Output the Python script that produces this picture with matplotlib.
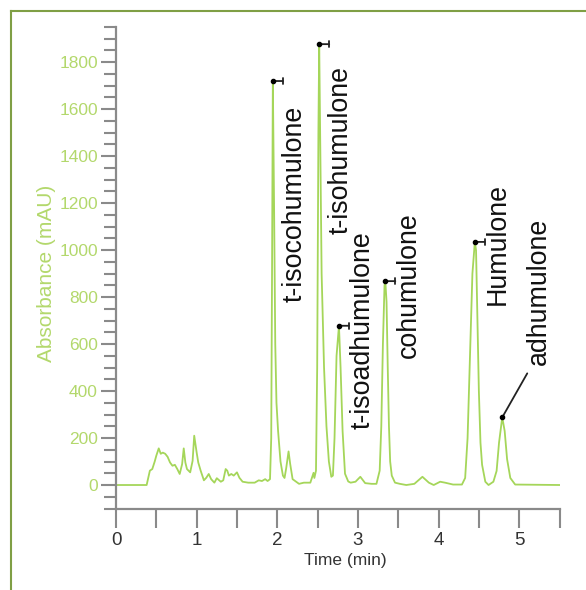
import matplotlib
matplotlib.use("Agg")
import matplotlib.pyplot as plt
from matplotlib.lines import Line2D
from matplotlib.ticker import MultipleLocator

plt.rcParams['font.family'] = ['Liberation Sans', 'DejaVu Sans']

# ---- data ----
time_min = [0, 0.38, 0.42, 0.45, 0.48, 0.50, 0.53, 0.555, 0.58, 0.61, 0.64, 0.67, 0.70, 0.73,
            0.76, 0.79, 0.82, 0.84, 0.86, 0.88, 0.92, 0.95, 0.97, 1.00, 1.02, 1.05, 1.09, 1.12,
            1.15, 1.18, 1.22, 1.25, 1.30, 1.33, 1.36, 1.38, 1.40, 1.43, 1.46, 1.50, 1.53, 1.57,
            1.64, 1.72, 1.77, 1.81, 1.85, 1.88, 1.91, 1.925, 1.935, 1.945, 1.96, 1.975, 1.99,
            2.01, 2.04, 2.07, 2.09, 2.11, 2.14, 2.16, 2.19, 2.27, 2.33, 2.41, 2.45, 2.46, 2.48,
            2.495, 2.51, 2.52, 2.535, 2.55, 2.58, 2.61, 2.64, 2.67, 2.69, 2.71, 2.735, 2.765,
            2.785, 2.81, 2.84, 2.88, 2.91, 2.97, 3.03, 3.09, 3.17, 3.23, 3.27, 3.29, 3.31, 3.33,
            3.34, 3.355, 3.37, 3.385, 3.40, 3.42, 3.46, 3.52, 3.60, 3.70, 3.80, 3.88, 3.94, 4.02,
            4.08, 4.18, 4.29, 4.33, 4.36, 4.39, 4.42, 4.45, 4.465, 4.48, 4.50, 4.52, 4.54, 4.58,
            4.62, 4.68, 4.72, 4.75, 4.79, 4.82, 4.85, 4.89, 4.95, 5.5]
absorbance = [0, 0, 61, 68, 100, 125, 156, 133, 138, 133, 120, 96, 82, 86,
              68, 47, 89, 156, 96, 68, 54, 103, 210, 139, 96, 61, 20, 31,
              47, 25, 10, 29, 14, 20, 68, 61, 40, 47, 40, 54, 31, 14,
              10, 10, 20, 17, 25, 17, 25, 200, 900, 1720, 1200, 600, 350,
              230, 100, 40, 30, 70, 143, 90, 25, 5, 10, 10, 52, 30, 61,
              500, 1500, 1877, 1400, 900, 500, 250, 100, 35, 40, 200, 550, 678,
              500, 230, 48, 15, 10, 14, 35, 8, 5, 5, 61, 250, 600, 850,
              868, 780, 500, 250, 100, 40, 10, 5, 0, 5, 35, 10, 0, 14,
              10, 2, 2, 30, 200, 550, 900, 1035, 1000, 750, 400, 180, 86, 14,
              0, 14, 60, 180, 288, 230, 110, 30, 2, 0]

peak_names = ["t-isocohumulone", "t-isohumulone", "t-isoadhumulone",
              "cohumulone", "Humulone", "adhumulone"]
peak_times = [1.945, 2.52, 2.765, 3.34, 4.45, 4.79]
peak_values = [1720, 1877, 678, 868, 1035, 288]

# label anchor (bottom of vertical text) in data units
label_x = [2.22, 2.79, 3.06, 3.63, 4.73, 5.24]
label_y = [780, 1070, 240, 540, 765, 510]

x_ticks = [0, 1, 2, 3, 4, 5]
y_ticks = [0, 200, 400, 600, 800, 1000, 1200, 1400, 1600, 1800]

# ---- figure ----
W, H = 586, 590
fig = plt.figure(figsize=(W / 100, H / 100), dpi=100)
ax = fig.add_axes([116 / W, (H - 508.5) / H, (559.5 - 116) / W, (508.5 - 27) / H])

line_col = '#a5d65a'
text_green = '#b3d86c'
axis_grey = '#8a8a8a'

ax.plot(time_min, absorbance, color=line_col, lw=1.3)

ax.set_xlim(0, 5.5)
ax.set_ylim(-100, 1950)
for s in ['top', 'right']:
    ax.spines[s].set_visible(False)
for s in ['left', 'bottom']:
    ax.spines[s].set_color(axis_grey)
    ax.spines[s].set_linewidth(1.6)

ax.set_xticks(x_ticks)
ax.xaxis.set_minor_locator(MultipleLocator(0.5))
ax.set_yticks(y_ticks)
ax.yaxis.set_minor_locator(MultipleLocator(50))
ax.tick_params(axis='x', which='both', direction='out', length=14, width=1.5,
               color=axis_grey, labelsize=13.5, labelcolor='#333333', pad=3)
ax.tick_params(axis='y', which='major', direction='out', length=11, width=1.5,
               color=axis_grey, labelsize=12.5, labelcolor=text_green, pad=2)
ax.tick_params(axis='y', which='minor', direction='out', length=9, width=1.5,
               color=axis_grey)

fig.text(345 / W, 1 - 561 / H, 'Time (min)', ha='center', va='center',
         fontsize=12.5, color='#333333')
fig.text(46.5 / W, 1 - 273 / H, 'Absorbance (mAU)', ha='center', va='center',
         rotation=90, fontsize=15, color=text_green)

# peak markers and labels
for i, (name, pt, pv) in enumerate(zip(peak_names, peak_times, peak_values)):
    ax.plot(pt, pv, 'o', ms=3, color='black', zorder=5)
    if name == 'adhumulone':
        ax.annotate('', xy=(pt, pv), xytext=(25, 44), textcoords='offset pixels',
                    arrowprops=dict(arrowstyle='-', color='#222222', lw=1.3,
                                    shrinkA=0, shrinkB=0))
    else:
        ax.annotate('', xy=(pt, pv), xytext=(10, 0), textcoords='offset pixels',
                    arrowprops=dict(arrowstyle='|-|,widthA=0.2,widthB=0',
                                    color='#222222', lw=1.3, shrinkA=0, shrinkB=0))
    ax.text(label_x[i], label_y[i], name, rotation=90, ha='center', va='bottom',
            fontsize=19.3, color='#111111')

# outer frame (top and left edges visible)
frame_col = '#7f9f45'
fig.add_artist(Line2D([11 / W, 11 / W], [0, 1 - 11 / H], transform=fig.transFigure,
                      color=frame_col, lw=1.5))
fig.add_artist(Line2D([11 / W, 1], [1 - 11 / H, 1 - 11 / H], transform=fig.transFigure,
                      color=frame_col, lw=1.5))

fig.savefig('out.png', dpi=100)
